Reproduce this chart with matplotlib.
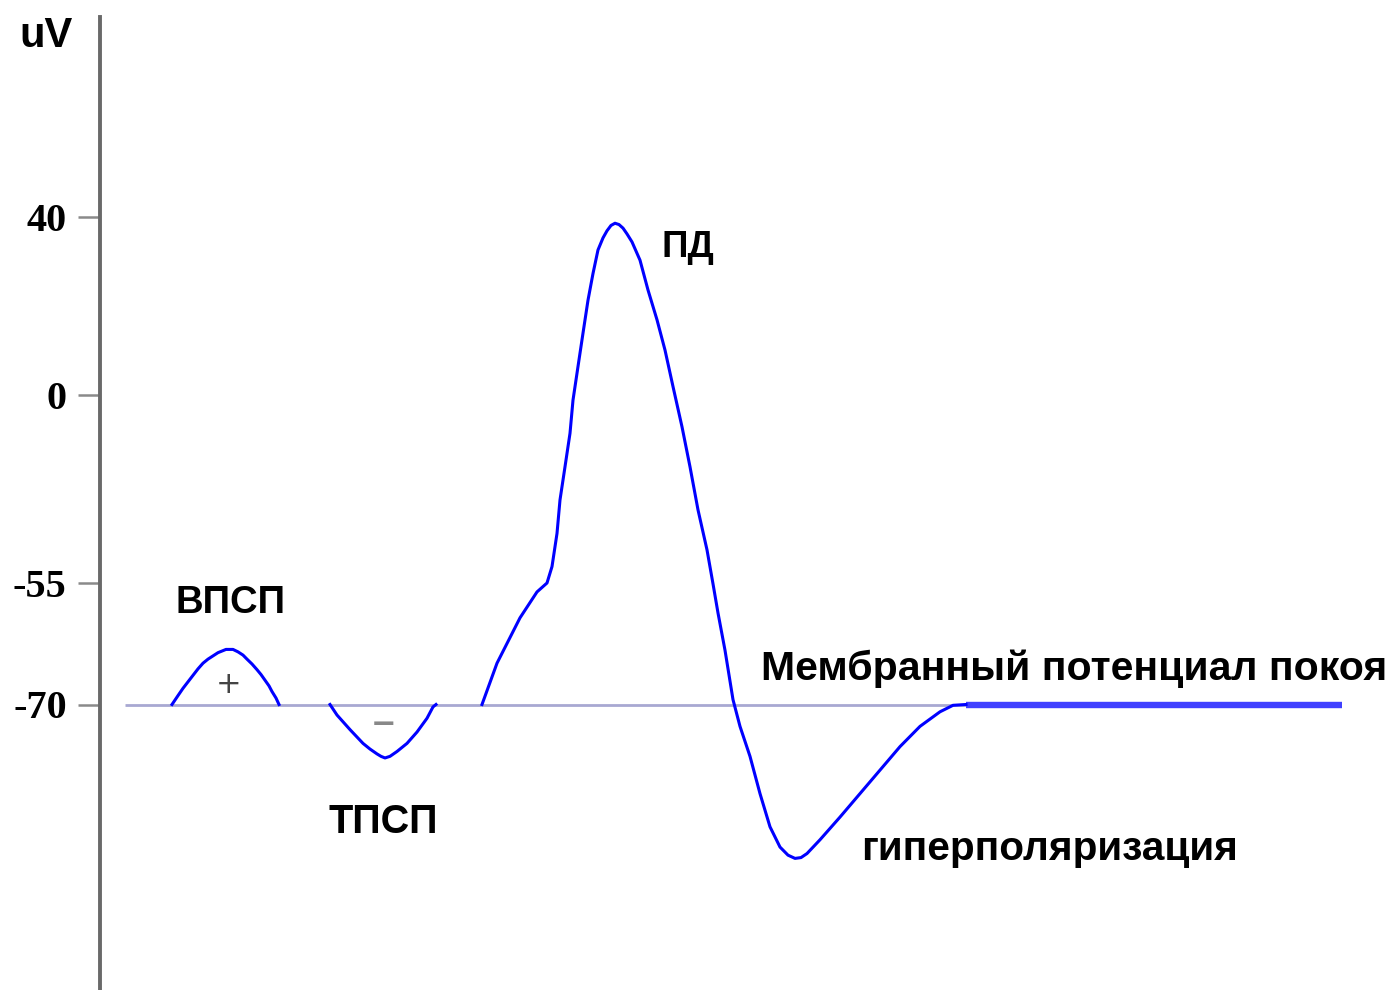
import numpy as np
import matplotlib
matplotlib.use("Agg")
import matplotlib.pyplot as plt

# ---------------- data ----------------
# time in arbitrary units, membrane potential in mV
epsp_t = [172, 178, 183, 188, 193, 198, 203, 208, 213, 218, 222, 226, 229, 233, 238,
          243, 247, 252, 257, 261, 265, 269, 272, 276, 279]
epsp_v = [-70, -68.9, -68.0, -67.2, -66.4, -65.6, -64.9, -64.4, -64.0, -63.6, -63.4,
          -63.2, -63.2, -63.2, -63.5, -63.9, -64.4, -65.0, -65.7, -66.3, -67.0, -67.7,
          -68.4, -69.2, -70]

ipsp_t = [330, 337, 350, 363, 370, 377, 381, 385, 390, 397, 407, 417, 427, 433, 436]
ipsp_v = [-70, -71.3, -73.1, -74.8, -75.5, -76.1, -76.4, -76.6, -76.4, -75.8, -74.8,
          -73.4, -71.7, -70.3, -70]

ap_t = [482, 497, 520, 537, 547, 552, 557, 560, 565, 570, 573, 578, 583, 588, 593,
        598, 603, 607, 611, 615, 619, 623, 627, 632, 640, 648, 657, 665, 673, 682,
        690, 698, 707, 713, 718, 725, 733, 740, 750, 760, 770, 780, 788, 795, 801,
        807, 820, 840, 860, 880, 900, 920, 940, 953, 966]
ap_v = [-70, -64.9, -59.3, -56.1, -55.0, -50.2, -40.5, -30.7, -21.0, -11.2, -1.5, 6.4,
        13.9, 21.3, 27.3, 32.6, 35.3, 36.9, 38.1, 38.6, 38.3, 37.5, 36.2, 34.4, 30.3,
        23.6, 16.9, 10.1, 1.9, -9.3, -21.0, -33.6, -45.3, -55.1, -58.7, -63.3, -69.4,
        -72.7, -76.4, -81.0, -85.1, -87.6, -88.6, -89.0, -88.9, -88.4, -86.7, -83.9,
        -81.0, -78.1, -75.2, -72.7, -70.9, -70.1, -70]

rest_v = -70
rest_line_t = [125, 966]   # grey resting-potential reference line
rest_tail_t = [966, 1342]  # blue flat tail after the AP

ytick_vals = [40, 0, -55, -70]
ytick_labels = ["40", "0", "-55", "-70"]

# ---------------- non-linear y axis (as drawn in the original) ----------------
_V = [-200, -70, -55, 0, 40, 200]
_P = [-(704.5 + 130 * 8.1), -704.5, -583.0, -395.0, -217.0, -217.0 + 160 * 4.45]


def fwd(v):
    return np.interp(v, _V, _P)


def inv(p):
    return np.interp(p, _P, _V)


fig = plt.figure(figsize=(13.87, 9.90), dpi=100)
ax = fig.add_axes([0, 0, 1, 1])
ax.set_yscale("function", functions=(fwd, inv))
ax.set_xlim(0, 1387)
ax.set_ylim(inv(-990), inv(0))

for s in ["top", "right", "bottom"]:
    ax.spines[s].set_visible(False)
ax.spines["left"].set_position(("data", 100))
ax.spines["left"].set_bounds(inv(-990), inv(-17))
ax.spines["left"].set_color("#696969")
ax.spines["left"].set_linewidth(2.8)

ax.set_xticks([])
ax.set_yticks(ytick_vals)
ax.set_yticklabels(ytick_labels)
ax.tick_params(axis="y", direction="out", length=16, width=1.8, color="#8a8a8a",
               pad=8, labelsize=29)
for lab in ax.get_yticklabels():
    lab.set_fontfamily("Liberation Serif")
    lab.set_fontweight("bold")

blue = "#0000ff"
ax.plot(rest_line_t, [rest_v, rest_v], color="#a8a8d2", lw=2.0, solid_capstyle="butt", zorder=1)
ax.plot(rest_tail_t, [rest_v, rest_v], color="#4040ff", lw=4.6, solid_capstyle="butt", zorder=2)
ax.plot(epsp_t, epsp_v, color=blue, lw=2.2, zorder=3)
ax.plot(ipsp_t, ipsp_v, color=blue, lw=2.2, zorder=3)
ax.plot(ap_t, ap_v, color=blue, lw=2.2, zorder=3)

fam = ["Liberation Sans", "DejaVu Sans"]
kw = dict(fontfamily=fam, fontweight="bold", color="black", va="baseline")
ax.text(19, 78.2, "uV", fontsize=30, ha="left", **kw)
ax.text(231, -58.7, "ВПСП", fontsize=27.5, ha="center", **kw)
ax.text(383, -85.9, "ТПСП", fontsize=28.5, ha="center", **kw)
ax.text(662, 31.0, "ПД", fontsize=26.5, ha="left", **kw)
ax.text(761, -67.0, "Мембранный потенциал покоя", fontsize=29.5, ha="left", **kw)
ax.text(861, -89.2, "гиперполяризация", fontsize=29.2, ha="left", **kw)
ax.text(229, -67.5, "+", fontsize=22, ha="center", va="center", color="#444444",
        fontfamily="DejaVu Sans")
ax.text(384, -72.5, "−", fontsize=22, ha="center", va="center", color="#888888",
        fontfamily="DejaVu Sans", fontweight="bold")

fig.savefig("out.png", dpi=100)
